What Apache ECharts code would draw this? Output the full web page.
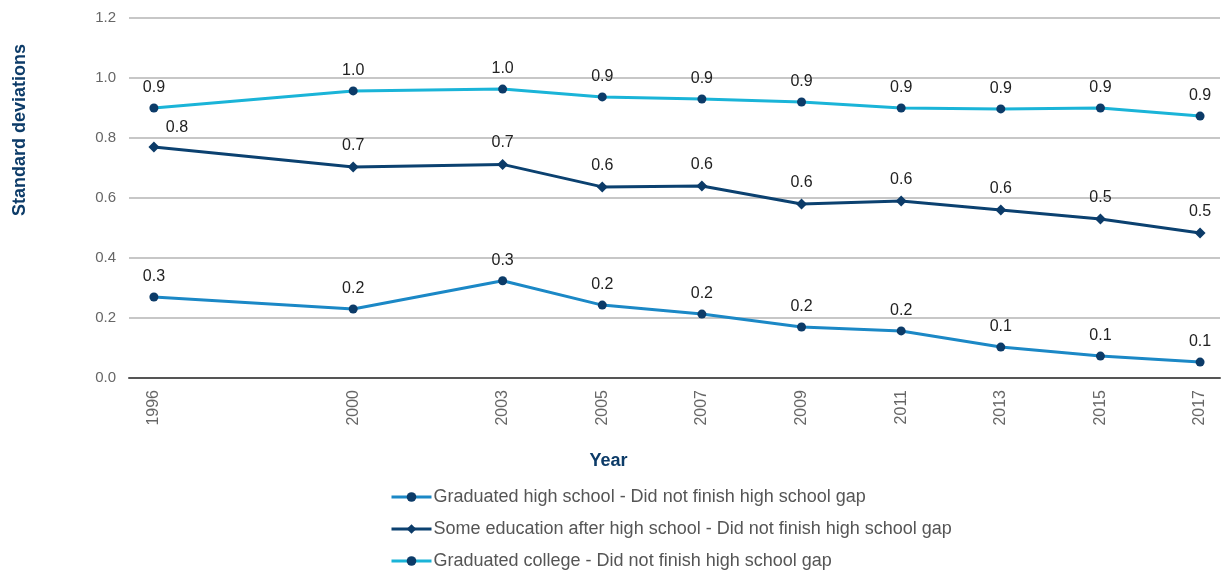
<!DOCTYPE html>
<html>
<head>
<meta charset="utf-8">
<script src="https://cdn.jsdelivr.net/npm/echarts@6/dist/echarts.min.js"></script>
<style>
  html, body { margin: 0; padding: 0; background: #fff; }
  #chart { width: 1222px; height: 571px; }
</style>
</head>
<body>
<div id="chart"></div>
<script>
// 年份（数值轴，间距按实际年份）
const years = [1996, 2000, 2003, 2005, 2007, 2009, 2011, 2013, 2015, 2017]

// 三条差距曲线
const highSchoolGap = [0.27, 0.23, 0.324, 0.243, 0.213, 0.17, 0.157, 0.103, 0.073, 0.053]
const someEduGap = [0.77, 0.703, 0.712, 0.637, 0.64, 0.58, 0.59, 0.56, 0.53, 0.483]
const collegeGap = [0.9, 0.957, 0.963, 0.937, 0.93, 0.92, 0.9, 0.897, 0.9, 0.873]

const seriesNames = [
  'Graduated high school - Did not finish high school gap',
  'Some education after high school - Did not finish high school gap',
  'Graduated college - Did not finish high school gap'
]

const markerColor = '#0c3b68'
const fontName = 'Liberation Sans, Arial, sans-serif'

const makeSeries = function (name, values, lineColor, symbol, size) {
  return {
    name: name,
    type: 'line',
    data: years.map((y, i) => [y, values[i]]),
    symbol: symbol,
    symbolSize: size,
    color: lineColor,
    lineStyle: { color: lineColor, width: 3 },
    itemStyle: { color: markerColor },
    label: {
      show: true,
      position: 'top',
      distance: 8,
      color: '#222',
      fontSize: 16,
      fontFamily: fontName,
      formatter: p => p.value[1].toFixed(1)
    },
    emphasis: { disabled: true },
    z: 3
  }
}

let myChart = echarts.init(document.getElementById('chart'))
let series = [
  makeSeries(seriesNames[0], highSchoolGap, '#1b88c6', 'circle', 9),
  makeSeries(seriesNames[1], someEduGap, '#0b4170', 'diamond', 11),
  makeSeries(seriesNames[2], collegeGap, '#1ab4d8', 'circle', 9)
]
// 1996 年 0.8 标签偏右
series[1].data[0] = {
  value: [years[0], someEduGap[0]],
  label: { offset: [23, 2] }
}

let option = {
  animation: false,
  textStyle: { fontFamily: fontName },
  grid: { left: 129, right: 2, top: 18, bottom: 193 },
  legend: {
    orient: 'vertical',
    left: 390,
    top: 488,
    padding: 0,
    itemGap: 14,
    itemWidth: 40,
    itemHeight: 12,
    data: seriesNames,
    lineStyle: { width: 3 },
    textStyle: { color: '#555', fontSize: 18, padding: [0, 0, 0, -3] }
  },
  xAxis: {
    type: 'value',
    min: 1995.5,
    max: 2017.4,
    interval: 0.5,
    name: 'Year',
    nameLocation: 'middle',
    nameGap: 74,
    nameTextStyle: { color: '#0c3b68', fontWeight: 'bold', fontSize: 18, padding: [0, 132, 0, 0] },
    axisLine: { show: true, lineStyle: { color: '#555', width: 2 } },
    axisTick: { show: false },
    splitLine: { show: false },
    axisLabel: {
      rotate: 90,
      margin: 12,
      color: '#666',
      fontSize: 16,
      showMinLabel: true,
      showMaxLabel: true,
      formatter: v => (years.indexOf(v) >= 0 ? String(v) : '')
    }
  },
  yAxis: {
    type: 'value',
    min: 0,
    max: 1.2,
    interval: 0.2,
    name: 'Standard deviations',
    nameLocation: 'middle',
    nameGap: 100,
    nameTextStyle: { color: '#0c3b68', fontWeight: 'bold', fontSize: 18, padding: [0, 0, 0, 136] },
    axisLine: { show: false },
    axisTick: { show: false },
    axisLabel: {
      color: '#666',
      fontSize: 15,
      margin: 13,
      formatter: v => v.toFixed(1)
    },
    splitLine: { lineStyle: { color: '#b4b4b4', width: 1.5 } }
  },
  series: series
}
myChart.setOption(option)
</script>
</body>
</html>
